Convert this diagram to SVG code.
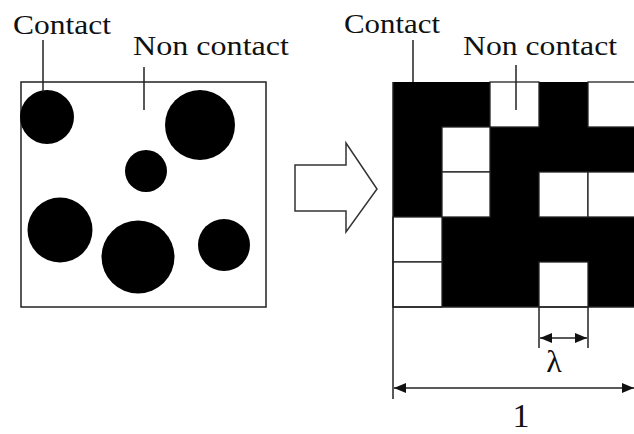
<svg xmlns="http://www.w3.org/2000/svg" width="634" height="434" viewBox="0 0 634 434">
  <defs>
    <style>
      text { font-family: "Liberation Serif", "Times New Roman", serif; fill: #111; }
      .ln { stroke: #222; stroke-width: 1.5; fill: none; }
      .dot { fill: #000; }
      .wc { fill: #fff; stroke: #222; stroke-width: 1.3; }
    </style>
    <marker id="ah" viewBox="0 0 12 10" refX="12" refY="5" markerWidth="12" markerHeight="10" markerUnits="userSpaceOnUse" orient="auto-start-reverse">
      <path d="M0,0 L12,5 L0,10 Z" fill="#111"/>
    </marker>
  </defs>
  <rect width="634" height="434" fill="#fff"/>

  <g id="left-panel">
    <rect x="21" y="82" width="245" height="225" class="ln"/>
    <circle class="dot" cx="47" cy="117" r="27"/>
    <circle class="dot" cx="200" cy="125" r="35"/>
    <circle class="dot" cx="146" cy="171" r="21"/>
    <circle class="dot" cx="60" cy="230" r="32.5"/>
    <circle class="dot" cx="138" cy="257" r="36.5"/>
    <circle class="dot" cx="224" cy="245" r="26"/>
  </g>
  <g id="left-labels">
    <text x="13" y="34" font-size="27" textLength="98" lengthAdjust="spacingAndGlyphs">Contact</text>
    <line class="ln" x1="43" y1="40" x2="43" y2="92"/>
    <text x="133" y="55" font-size="27" textLength="156" lengthAdjust="spacingAndGlyphs">Non contact</text>
    <line class="ln" x1="144" y1="67" x2="144" y2="110"/>
  </g>

  <g id="block-arrow">
    <polygon points="295,165 346,165 346,143 377,189 346,232 346,211 295,211" fill="#fff" stroke="#333" stroke-width="1.5"/>
  </g>

  <g id="grid">
    <rect x="393" y="82" width="241" height="225" fill="#000"/>
    <rect class="wc" x="490" y="82" width="49" height="45"/>
    <rect class="wc" x="588" y="82" width="49" height="45"/>
    <rect class="wc" x="442" y="127" width="48" height="45"/>
    <rect class="wc" x="442" y="172" width="48" height="45"/>
    <rect class="wc" x="539" y="172" width="49" height="45"/>
    <rect class="wc" x="588" y="172" width="49" height="45"/>
    <rect class="wc" x="393" y="217" width="49" height="45"/>
    <rect class="wc" x="393" y="262" width="49" height="45"/>
    <rect class="wc" x="539" y="262" width="49" height="45"/>
  </g>
  <g id="right-labels">
    <text x="344" y="33" font-size="27" textLength="96" lengthAdjust="spacingAndGlyphs">Contact</text>
    <line class="ln" x1="413" y1="40" x2="413" y2="82"/>
    <text x="463" y="55" font-size="27" textLength="154" lengthAdjust="spacingAndGlyphs">Non contact</text>
    <line class="ln" x1="516" y1="65" x2="516" y2="110"/>
  </g>

  <g id="connectors">
    <line class="ln" x1="393" y1="307" x2="634" y2="307"/>
    <line class="ln" x1="393" y1="82" x2="393" y2="399"/>
    <line class="ln" x1="539" y1="307" x2="539" y2="348"/>
    <line class="ln" x1="588" y1="307" x2="588" y2="348"/>
    <line class="ln" x1="540" y1="338" x2="587" y2="338" marker-start="url(#ah)" marker-end="url(#ah)"/>
    <line class="ln" x1="394" y1="388" x2="634" y2="388" marker-start="url(#ah)" marker-end="url(#ah)"/>
  </g>
  <g id="dim-labels">
    <text x="554" y="372" font-size="32" text-anchor="middle">λ</text>
    <text x="521" y="427" font-size="34" text-anchor="middle">1</text>
  </g>
</svg>
